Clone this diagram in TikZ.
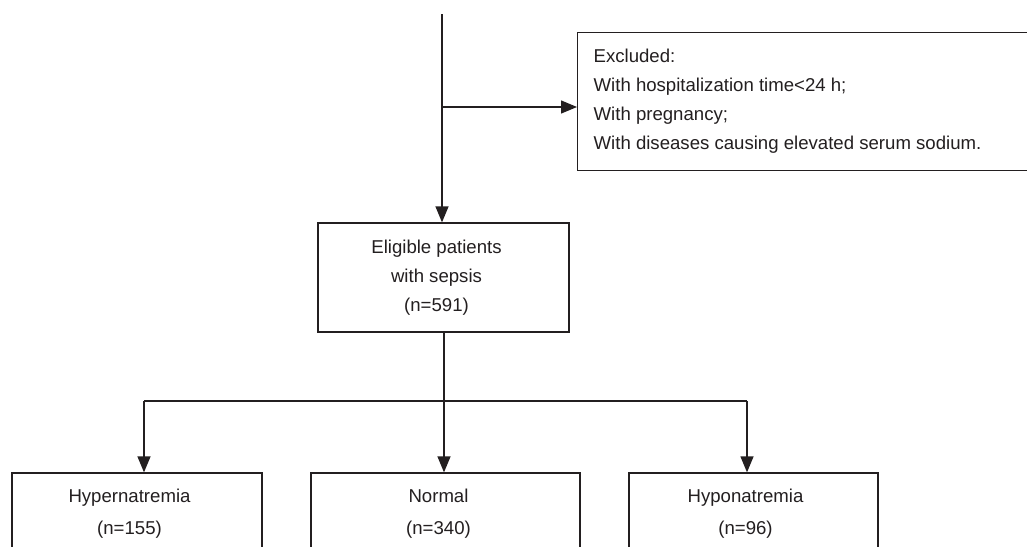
\documentclass[tikz,border=0pt]{standalone}
\usepackage{fontspec}
\setmainfont{Liberation Sans}
\usetikzlibrary{arrows.meta}
\definecolor{ink}{RGB}{35,31,32}
\begin{document}
\begin{tikzpicture}[x=1pt,y=-1pt,
  line width=1.3pt, draw=ink,
  box/.style={draw=ink, line width=1.3pt, rectangle, inner sep=0pt},
  txt/.style={text=ink, font=\fontsize{18.6}{29}\selectfont, align=center, inner sep=0pt},
  btxt/.style={text=ink, font=\fontsize{18.6}{32}\selectfont, align=center, inner sep=0pt},
  arr/.style={-{Triangle[length=16pt,width=13pt]}, draw=ink, line width=1.3pt}]
\useasboundingbox (0,0) rectangle (1027,546);
\clip (0,0) rectangle (1027,546);
\fill[white] (0,0) rectangle (1027,546);
% top
\coordinate (top) at (442,14);
\coordinate (split) at (442,107);
% exclusion box
\node[box, anchor=north west, minimum width=480pt, minimum height=138pt] (excl) at (577,32) {};
\node[txt, anchor=west, align=left] (excltxt) at (593,101.5)
  {Excluded:\\With hospitalization time<24 h;\\With pregnancy;\\With diseases causing elevated serum sodium.};
% eligible box
\node[box, minimum width=251pt, minimum height=109pt] (elig) at (443.5,277.5) {};
\node[txt] (eligtxt) at (436.5,278) {Eligible patients\\with sepsis\\(n=591)};
% bottom boxes
\node[box, minimum width=250pt, minimum height=82pt] (hyper) at (137,514) {};
\node[btxt] (hypertxt) at (129.5,514) {Hypernatremia\\(n=155)};
\node[box, minimum width=269pt, minimum height=82pt] (norm) at (445.5,514) {};
\node[btxt] (normtxt) at (438.5,514) {Normal\\(n=340)};
\node[box, minimum width=249pt, minimum height=82pt] (hypo) at (753.5,514) {};
\node[btxt] (hypotxt) at (745.5,514) {Hyponatremia\\(n=96)};
% connectors
\draw[arr] (top) -- (top |- elig.north);
\draw[arr] (split) -- (split -| excl.west);
\coordinate (bl) at (144,401);
\coordinate (bm) at (444,401);
\coordinate (br) at (747,401);
\draw (bm |- elig.south) -- (bm);
\draw (bl) -- (br);
\draw[arr] (bl) -- (bl |- hyper.north);
\draw[arr] (bm) -- (bm |- norm.north);
\draw[arr] (br) -- (br |- hypo.north);
\end{tikzpicture}
\end{document}
